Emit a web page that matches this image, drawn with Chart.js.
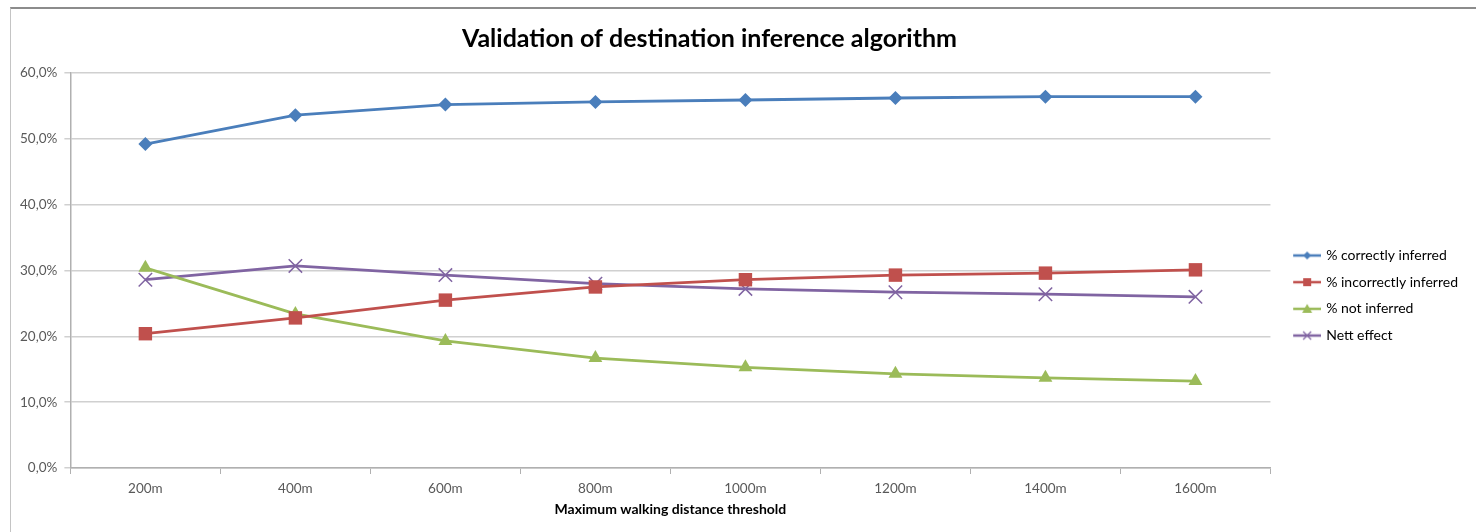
<!DOCTYPE html>
<html>
<head>
<meta charset="utf-8">
<title>Validation of destination inference algorithm</title>
<script src="https://cdn.jsdelivr.net/npm/chart.js@4.4.0/dist/chart.umd.min.js"></script>
<style>
    html, body { margin: 0; padding: 0; background: #fff; overflow: hidden; }
    #frame {
        position: absolute;
        left: 10px;
        top: 7px;
        width: 1466px;
        height: 525px;
        border-top: 2px solid #8c8c8c;
        border-left: 1px solid #c4c4c4;
    }
    #frame canvas { display: block; }
</style>
</head>
<body>
<div id="frame"><canvas id="validationChart" width="1465" height="523"></canvas></div>
<script>
(function(){
    "use strict";

    const chartTitle = 'Validation of destination inference algorithm';
    const axisTitle = 'Maximum walking distance threshold';

    // distance thresholds on the x axis
    const distances = ['200m', '400m', '600m', '800m', '1000m', '1200m', '1400m', '1600m'];

    // percentages per threshold
    const correctlyInferred   = [49.2, 53.6, 55.2, 55.6, 55.9, 56.2, 56.4, 56.4];
    const incorrectlyInferred = [20.4, 22.8, 25.5, 27.5, 28.6, 29.3, 29.6, 30.1];
    const notInferred         = [30.4, 23.4, 19.3, 16.7, 15.3, 14.3, 13.7, 13.2];
    const nettEffect          = [28.6, 30.7, 29.3, 28.0, 27.2, 26.7, 26.4, 26.0];

    const FONT = 'Lato, "Open Sans", sans-serif';
    const TEXT_GREY = '#595959';

    /**
     * Small line + marker swatch used as the legend point style.
     * The swatch is drawn in the right part of the canvas so the
     * legend text sits close to the end of the line.
    */
    function legendIcon(color, marker) {
        const c = document.createElement('canvas');
        c.width = 40;
        c.height = 14;
        const g = c.getContext('2d');
        const cx = 26, cy = 7;
        g.strokeStyle = color;
        g.fillStyle = color;
        g.lineWidth = 2.5;
        g.beginPath();
        g.moveTo(12, cy);
        g.lineTo(40, cy);
        g.stroke();

        g.beginPath();
        if (marker === 'diamond') {
            g.moveTo(cx, cy - 4); g.lineTo(cx + 4, cy); g.lineTo(cx, cy + 4); g.lineTo(cx - 4, cy);
            g.closePath(); g.fill();
        } else if (marker === 'square') {
            g.rect(cx - 4, cy - 4, 8, 8); g.fill();
        } else if (marker === 'triangle') {
            g.moveTo(cx, cy - 5); g.lineTo(cx + 5, cy + 4); g.lineTo(cx - 5, cy + 4);
            g.closePath(); g.fill();
        } else {
            g.lineWidth = 1.2;
            g.moveTo(cx - 4, cy - 4); g.lineTo(cx + 4, cy + 4);
            g.moveTo(cx + 4, cy - 4); g.lineTo(cx - 4, cy + 4);
            g.stroke();
        }
        return c;
    }

    // title is drawn a little left of the canvas centre
    const titlePlugin = {
        id: 'chartTitle',
        afterDraw(chart) {
            const ctx = chart.ctx;
            ctx.save();
            ctx.font = 'bold 25px ' + FONT;
            ctx.fillStyle = '#000';
            ctx.textAlign = 'center';
            ctx.textBaseline = 'middle';
            ctx.fillText(chartTitle, chart.width / 2 - 34, 30);
            ctx.restore();
        }
    };

    const series = [
        { label: '% correctly inferred',   data: correctlyInferred,   color: '#4a7ebb', marker: 'diamond',  pointStyle: 'rectRot',  radius: 7 },
        { label: '% incorrectly inferred', data: incorrectlyInferred, color: '#c0504d', marker: 'square',   pointStyle: 'rect',     radius: 9.5 },
        { label: '% not inferred',         data: notInferred,         color: '#9bbb59', marker: 'triangle', pointStyle: 'triangle', radius: 8 },
        { label: 'Nett effect',            data: nettEffect,          color: '#8064a2', marker: 'cross',    pointStyle: 'crossRot', radius: 9.5 }
    ];

    const datasets = series.map(s => ({
        label: s.label,
        data: s.data,
        borderColor: s.color,
        backgroundColor: s.color,
        borderWidth: 2.8,
        pointStyle: s.pointStyle,
        pointRadius: s.radius,
        pointHoverRadius: s.radius,
        pointBorderWidth: s.pointStyle === 'crossRot' ? 1.5 : 0,
        pointBorderColor: s.color,
        pointBackgroundColor: s.color,
        tension: 0,
        fill: false,
        icon: legendIcon(s.color, s.marker)
    }));

    const ctx = document.getElementById('validationChart').getContext('2d');
    new Chart(ctx, {
        type: 'line',
        data: {
            labels: distances,
            datasets: datasets
        },
        options: {
            responsive: false,
            animation: false,
            layout: {
                padding: { top: 64, left: 2, right: 8, bottom: 14 }
            },
            scales: {
                x: {
                    offset: true,
                    grid: {
                        offset: true,
                        drawOnChartArea: false,
                        drawTicks: true,
                        tickLength: 6,
                        color: '#b0b0b0'
                    },
                    border: { color: '#b0b0b0', width: 1.5 },
                    ticks: {
                        color: TEXT_GREY,
                        font: { family: FONT, size: 13.5 },
                        padding: 7
                    },
                    title: {
                        display: true,
                        text: axisTitle,
                        color: '#000',
                        font: { family: FONT, size: 14, weight: 'bold' },
                        padding: { top: -3, bottom: 0 }
                    }
                },
                y: {
                    min: 0,
                    max: 60,
                    ticks: {
                        stepSize: 10,
                        color: TEXT_GREY,
                        font: { family: FONT, size: 13.5 },
                        padding: 7,
                        callback: v => v.toFixed(1).replace('.', ',') + '%'
                    },
                    grid: {
                        color: '#d0d0d0',
                        lineWidth: 1.5,
                        tickLength: 6
                    },
                    border: { color: '#b0b0b0', width: 1.5 }
                }
            },
            plugins: {
                title: { display: false },
                tooltip: { enabled: false },
                legend: {
                    position: 'right',
                    align: 'center',
                    labels: {
                        color: '#000',
                        font: { family: FONT, size: 14 },
                        usePointStyle: true,
                        pointStyleWidth: 36,
                        padding: 12.7,
                        generateLabels: chart => chart.data.datasets.map((ds, i) => ({
                            text: ds.label,
                            pointStyle: ds.icon,
                            fillStyle: ds.borderColor,
                            strokeStyle: ds.borderColor,
                            lineWidth: 0,
                            hidden: false,
                            datasetIndex: i
                        }))
                    }
                }
            }
        },
        plugins: [titlePlugin]
    });
})();
</script>
</body>
</html>
